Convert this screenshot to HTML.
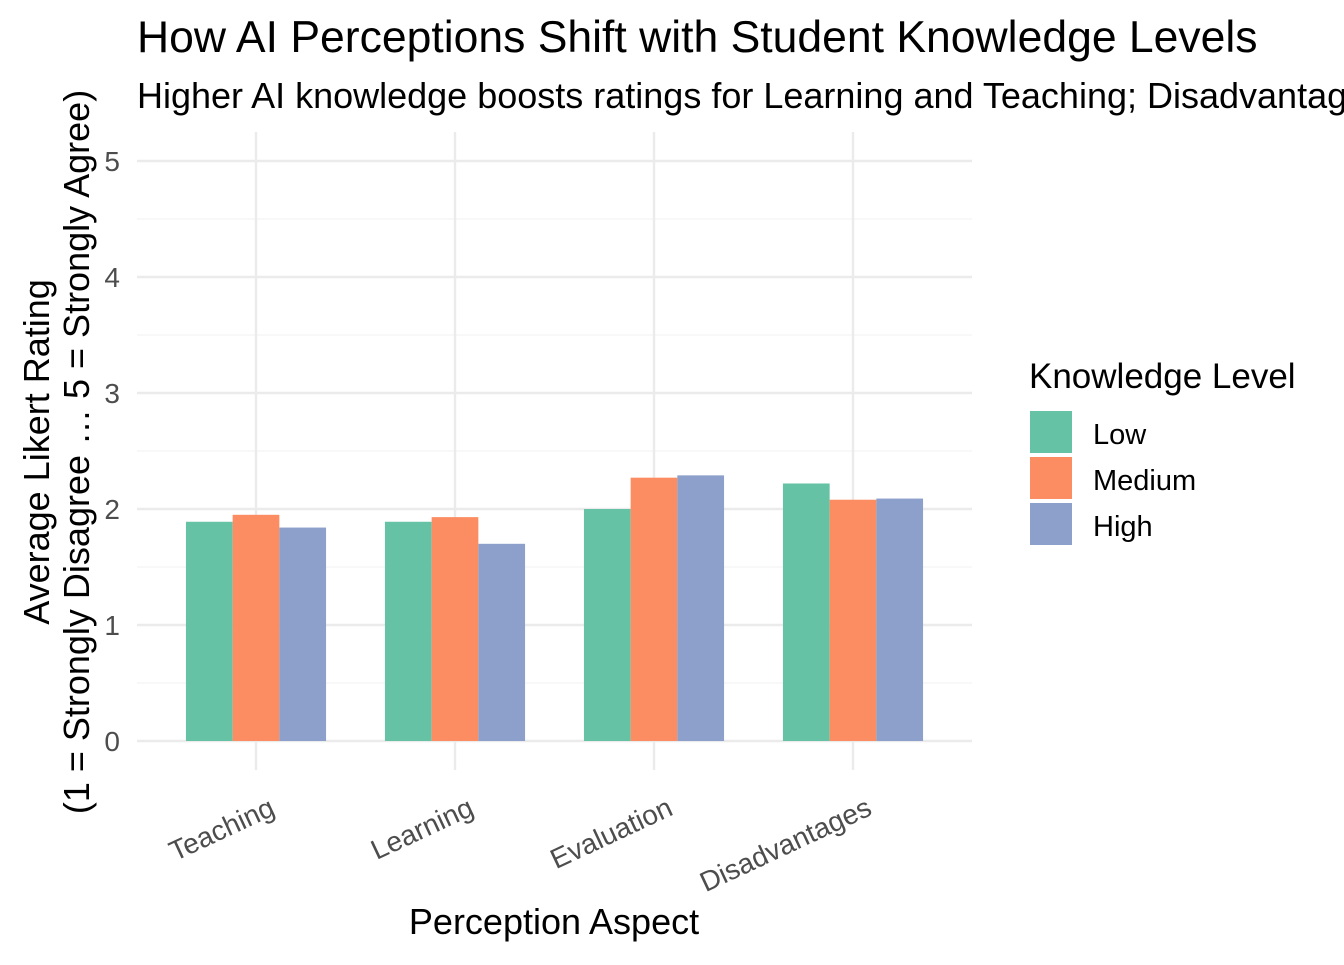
<!DOCTYPE html>
<html><head><meta charset="utf-8">
<style>
body{margin:0;background:#fff;}
svg text{font-family:"Liberation Sans",Arial,sans-serif;}
</style></head>
<body>
<svg id="chart" width="1344" height="960" xmlns="http://www.w3.org/2000/svg">
<text x="137" y="52" font-size="44.5" fill="#000">How AI Perceptions Shift with Student Knowledge Levels</text>
<text x="137" y="108" font-size="36" fill="#000">Higher AI knowledge boosts ratings for Learning and Teaching; Disadvantages perceptions remain similar</text>
<g id="grid"></g>
<g id="bars"></g>
<g id="axes"></g>
<text transform="translate(49,452) rotate(-90)" text-anchor="middle" font-size="36">Average Likert Rating</text>
<text transform="translate(89,452) rotate(-90)" text-anchor="middle" font-size="36">(1 = Strongly Disagree … 5 = Strongly Agree)</text>
<text x="554" y="934" text-anchor="middle" font-size="36">Perception Aspect</text>
<g id="legend"></g>
</svg>
<script>
const categories=["Teaching","Learning","Evaluation","Disadvantages"];
const series=["Low","Medium","High"];
const lowValues=[1.89,1.89,2.00,2.22];
const mediumValues=[1.95,1.93,2.27,2.08];
const highValues=[1.84,1.70,2.29,2.09];
const yTicks=[0,1,2,3,4,5];
const colors=["#66c2a5","#fc8d62","#8da0cb"];
const NS="http://www.w3.org/2000/svg";
const y=v=>741-v*116;
const x=i=>256+i*199;
const barW=46.7;
function mk(tag,attrs,parent){const e=document.createElementNS(NS,tag);for(const k in attrs)e.setAttribute(k,attrs[k]);parent.appendChild(e);return e;}
const grid=document.getElementById('grid'),bars=document.getElementById('bars'),axes=document.getElementById('axes'),legend=document.getElementById('legend');
for(let t=0;t<5;t++){const l=mk('line',{x1:137,x2:972,y1:y(t+0.5),y2:y(t+0.5),stroke:'#f3f3f3','stroke-width':1.2},grid);

}
yTicks.forEach(t=>{const l=mk('line',{x1:137,x2:972,y1:y(t),y2:y(t),stroke:'#ebebeb','stroke-width':2.4},grid);


const tx=mk('text',{x:120,y:y(t)+10,'text-anchor':'end','font-size':28,fill:'#4d4d4d'},axes);tx.textContent=t;

});
categories.forEach((c,i)=>{const l=mk('line',{x1:x(i),x2:x(i),y1:132,y2:770,stroke:'#ebebeb','stroke-width':2.4},grid);


const tx=mk('text',{transform:`translate(${x(i)+12},${796}) rotate(-25)`,'text-anchor':'end','font-size':28,fill:'#4d4d4d',dy:20},axes);tx.textContent=c;

});
const all=[lowValues,mediumValues,highValues];
all.forEach((vals,s)=>vals.forEach((v,i)=>{const r=mk('rect',{x:x(i)+(s-1.5)*barW,y:y(v),width:barW,height:y(0)-y(v),fill:colors[s]},bars);

}));
const lt=mk('text',{x:1029,y:388,'font-size':35},legend);lt.textContent='Knowledge Level';


series.forEach((s,k)=>{const r=mk('rect',{x:1030,y:411+k*46,width:42,height:42,fill:colors[k]},legend);


const t=mk('text',{x:1093,y:444+k*46,'font-size':29},legend);t.textContent=s;

});
</script>
</body></html>
